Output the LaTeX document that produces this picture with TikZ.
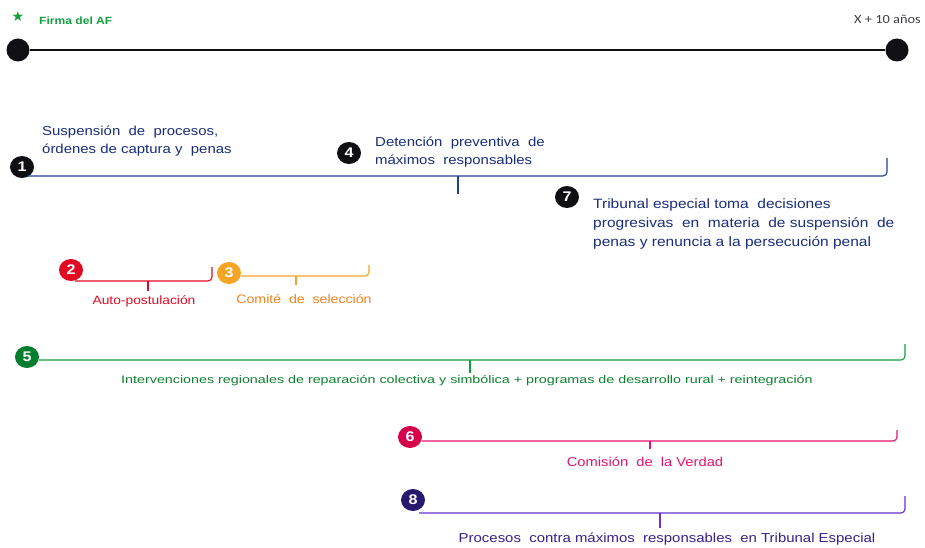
\documentclass[tikz,border=0pt]{standalone}
\usepackage{fontspec}
\setmainfont{Liberation Sans}[FakeStretch=1.15]
\newfontfamily\wideB{Liberation Sans}[FakeStretch=1.3]
\newfontfamily\calib{Carlito}[FakeStretch=1.15]
\newfontfamily\symf{DejaVu Sans}
\usetikzlibrary{shapes.geometric}
\definecolor{cblack}{RGB}{15,15,20}
\definecolor{cgreen}{RGB}{20,160,60}
\definecolor{cdkgreen}{RGB}{0,125,45}
\definecolor{cnavy}{RGB}{25,45,125}
\definecolor{cblue}{RGB}{35,65,145}
\definecolor{cred}{RGB}{225,10,35}
\definecolor{corange}{RGB}{245,165,35}
\definecolor{corgtext}{RGB}{240,130,30}
\definecolor{cpink}{RGB}{230,20,110}
\definecolor{cpinkb}{RGB}{215,0,75}
\definecolor{cpurple}{RGB}{100,50,210}
\definecolor{cdkpurple}{RGB}{40,25,110}
\tikzset{
  x=1pt, y=-1pt,
  badge/.style={ellipse, fill=#1, text=white, font=\bfseries\fontsize{14}{14}\selectfont, inner sep=0pt, minimum width=24pt, minimum height=22pt},
  dot/.style={circle, fill=cblack, inner sep=0pt, minimum size=23pt},
  brk/.style={draw=#1, line width=1.1pt, rounded corners=4pt},
  lbl/.style={font=\fontsize{13}{18}\selectfont, align=left, inner sep=0pt, anchor=north west},
  clbl/.style={inner sep=0pt, anchor=north},
}
\begin{document}
\begin{tikzpicture}
\useasboundingbox (0,0) rectangle (925,548);
\fill[white] (0,0) rectangle (925,548);
% top timeline
\node[text=cgreen, font=\symf\fontsize{14}{14}\selectfont, inner sep=0pt] (star) at (18,16) {★};
\node[text=cgreen, font=\bfseries\fontsize{10.5}{10}\selectfont, inner sep=0pt, anchor=west] (firma) at (39,21) {Firma del AF};
\node[text=cblack!80, font=\calib\fontsize{12.5}{12.5}\selectfont, inner sep=0pt, anchor=east] (xten) at (921,19) {X + 10 años};
\node[dot] (dL) at (18,50) {};
\node[dot] (dR) at (897,50) {};
\draw[cblack, line width=1.4pt] (dL) -- (dR);

% bracket 1 (blue)
\node[badge=cblack] (b1) at (22,167) {1};
\coordinate (e1) at (887,158);
\coordinate (t1) at (458,194);
\draw[brk=cblue] (b1.south east) ++(-3,0) coordinate (s1) (s1|-0,176) -- (e1|-0,176) -- (e1);
\draw[cblue, line width=1.1pt] (t1|-0,176) -- (t1);
\node[lbl, text=cnavy] (l1) at (42,126) {Suspensión\ \ de\ \ procesos,\\órdenes\ de captura\ y\ \ penas};
\node[badge=cblack] (b4) at (349,153) {4};
\node[lbl, text=cnavy] (l4) at (375,137) {Detención\ \ preventiva\ \ de\\máximos\ \ responsables};
\node[badge=cblack] (b7) at (567,197) {7};
\node[lbl, text=cnavy, font=\fontsize{13.5}{19}\selectfont] (l7) at (593,199) {Tribunal\ especial toma\ \ decisiones\\progresivas\ \ en\ \ materia\ \ de\ suspensión\ \ de\\penas\ y\ renuncia\ a\ la persecución\ penal};

% bracket 2 (red)
\node[badge=cred] (b2) at (71,270) {2};
\coordinate (e2) at (212,267);
\coordinate (t2) at (148,291);
\draw[brk=cred] (b2.south) ++(4,0) coordinate (s2) (s2|-0,281) -- (e2|-0,281) -- (e2);
\draw[cred, line width=1.1pt] (t2|-0,281) -- (t2);
\node[clbl, text=cred, font=\fontsize{12}{12}\selectfont] (l2) at (144,295) {Auto-postulación};

% bracket 3 (orange)
\node[badge=corange] (b3) at (229,273) {3};
\coordinate (e3) at (369,265);
\coordinate (t3) at (296,285);
\draw[brk=corange] (b3.east) (b3.east|-0,276) -- (e3|-0,276) -- (e3);
\draw[corange, line width=1.1pt] (t3|-0,276) -- (t3);
\node[clbl, text=corgtext, font=\fontsize{12.3}{12}\selectfont] (l3) at (304,294) {Comité\ \ de\ \ selección};

% bracket 5 (green)
\node[badge=cdkgreen] (b5) at (27,357) {5};
\coordinate (e5) at (905,344);
\coordinate (t5) at (470,373);
\draw[brk=cgreen] (b5.east) (b5.east|-0,360) -- (e5|-0,360) -- (e5);
\draw[cgreen, line width=1.1pt] (t5|-0,360) -- (t5);
\node[clbl, text=cgreen!80!black, font=\wideB\fontsize{11}{12}\selectfont] (l5) at (467,375) {Intervenciones\ regionales\ de\ reparación\ colectiva\ y\ simbólica\ +\ programas\ de\ desarrollo\ rural\ +\ reintegración};

% bracket 6 (pink)
\node[badge=cpinkb] (b6) at (410,437) {6};
\coordinate (e6) at (897,430);
\coordinate (t6) at (650,449);
\draw[brk=cpink] (b6.east) (b6.east|-0,441) -- (e6|-0,441) -- (e6);
\draw[cpink, line width=1.1pt] (t6|-0,441) -- (t6);
\node[clbl, text=cpink, font=\fontsize{12.8}{14}\selectfont] (l6) at (645,457) {Comisión\ \ de\ \ la Verdad};

% bracket 8 (purple)
\node[badge=cdkpurple] (b8) at (413,500) {8};
\coordinate (e8) at (905,496);
\coordinate (t8) at (660,528);
\draw[brk=cpurple] (b8.south) ++(6,0) coordinate (s8) (s8|-0,513) -- (e8|-0,513) -- (e8);
\draw[cpurple, line width=1.1pt] (t8|-0,513) -- (t8);
\node[clbl, text=cdkpurple!70!cpurple, font=\fontsize{13}{14}\selectfont] (l8) at (667,533) {Procesos\ \ contra\ máximos\ \ responsables\ \ en\ Tribunal Especial};
\end{tikzpicture}
\end{document}
